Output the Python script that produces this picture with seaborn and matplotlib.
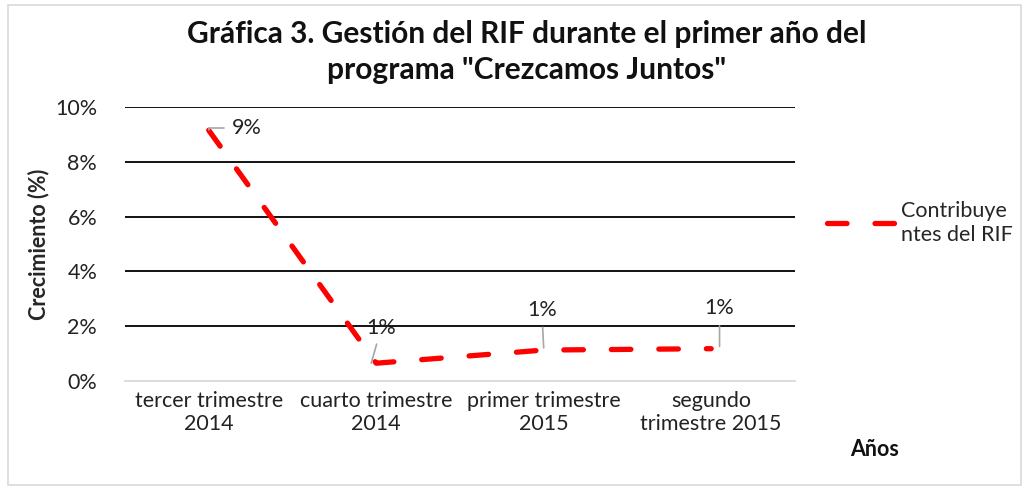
import matplotlib
matplotlib.use("Agg")
import matplotlib.pyplot as plt
import seaborn as sns
import pandas as pd
from matplotlib.patches import Rectangle
from matplotlib.lines import Line2D
from matplotlib.ticker import FuncFormatter

categories = ["tercer trimestre\n2014", "cuarto trimestre\n2014",
              "primer trimestre\n2015", "segundo\ntrimestre 2015"]
values = [9.15, 0.65, 1.13, 1.18]
labels = ["9%", "1%", "1%", "1%"]
series_name = "Contribuye\nntes del RIF"

sns.set_theme(style="white")
plt.rcParams['font.family'] = ['Lato', 'DejaVu Sans']

FS = 15.5
fig = plt.figure(figsize=(10.29, 4.9), dpi=100)
ax = fig.add_axes([0.1215, 0.2224, 0.651, 0.5592])

df = pd.DataFrame({"cat": categories, "val": values})
sns.lineplot(data=df, x="cat", y="val", ax=ax, color="#FF0000", linewidth=3.8,
             sort=False, legend=False)
line = ax.lines[0]
line.set_dashes((3.7, 5.3))
line.set_dash_capstyle('round')

ax.set_xlim(-0.5, 3.5)
ax.set_ylim(0, 10)
ax.set_yticks([0, 2, 4, 6, 8, 10])
ax.yaxis.set_major_formatter(FuncFormatter(lambda v, p: f"{v:.0f}%"))
for y in [2, 4, 6, 8, 10]:
    ax.axhline(y, color="black", linewidth=1.3, zorder=0)
for s in ["top", "right", "left"]:
    ax.spines[s].set_visible(False)
ax.spines["bottom"].set_color("#d9d9d9")
ax.spines["bottom"].set_linewidth(1.3)
ax.tick_params(axis="both", length=0, labelsize=FS, colors="#222222", pad=7)
ax.tick_params(axis="y", pad=20)
ax.set_xlabel("")
ax.set_ylabel("Crecimiento (%)", fontsize=FS, fontweight="bold", labelpad=4)

# data labels with leader lines
for i, (v, lab) in enumerate(zip(values, labels)):
    if i == 0:
        ax.annotate(lab, xy=(i, v), xytext=(38, 2), textcoords="offset pixels",
                    fontsize=FS, va="center", ha="center", color="#222222",
                    arrowprops=dict(arrowstyle="-", color="#a6a6a6", lw=1.2,
                                    shrinkA=3, shrinkB=0,
                                    connectionstyle="angle,angleA=0,angleB=90,rad=0"))
    elif i == 1:
        ax.annotate(lab, xy=(i - 0.03, v), xytext=(10, 35), textcoords="offset pixels",
                    fontsize=FS, va="center", ha="center", color="#222222",
                    arrowprops=dict(arrowstyle="-", color="#a6a6a6", lw=1.2,
                                    shrinkA=2, shrinkB=0))
    else:
        ax.annotate(lab, xy=(i + (0.0 if i == 2 else 0.05), v + 0.08),
                    xytext=(-2 if i == 2 else 0, 38), textcoords="offset pixels",
                    fontsize=FS, va="center", ha="center", color="#222222",
                    arrowprops=dict(arrowstyle="-", color="#a6a6a6", lw=1.2,
                                    shrinkA=3, shrinkB=0))

fig.suptitle('Gráfica 3. Gestión del RIF durante el primer año del\nprograma "Crezcamos Juntos"',
             x=0.512, y=0.96, fontsize=21.5, fontweight="bold", color="#111111",
             linespacing=1.35)

fig.text(0.826, 0.07, "Años", fontsize=FS, fontweight="bold", color="#111111")

handle = Line2D([], [], color="#FF0000", linewidth=3.8, dashes=(3.7, 5.3),
                dash_capstyle='round')
leg = fig.legend([handle], [series_name], loc="center left",
                 bbox_to_anchor=(0.785, 0.545), frameon=False, fontsize=FS,
                 handlelength=3.2, handletextpad=0.25)

fig.add_artist(Rectangle((0.008, 0.01), 0.984, 0.98, transform=fig.transFigure,
                         fill=False, edgecolor="#d9d9d9", linewidth=1.2))

fig.savefig("out.png", dpi=100)
